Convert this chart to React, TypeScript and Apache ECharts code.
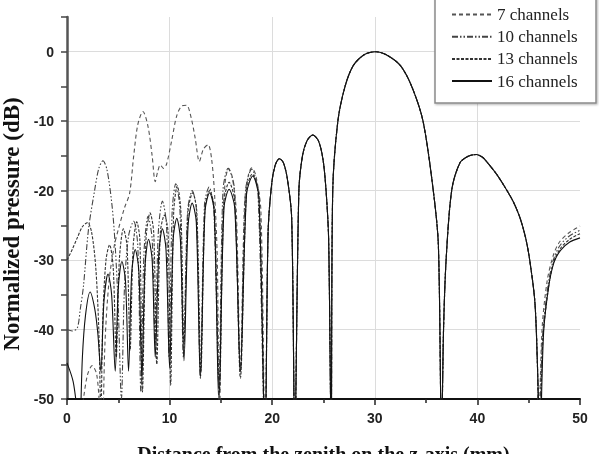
import React, { useEffect, useRef } from 'react';
import * as echarts from 'echarts';

type Pt = [number, number];

const seriesNames = ['7 channels', '10 channels', '13 channels', '16 channels'];
const xTicks = [0, 10, 20, 30, 40, 50];
const yTicks = [-50, -40, -30, -20, -10, 0];

// near-field part, read per series (x in mm, pressure in dB)
const head7: Pt[] = [
  [0, -58], [1.0, -56], [1.6, -50], [2.0, -46.5], [2.45, -45.2], [2.9, -46.5], [3.2, -52], [3.4, -58],
  [3.7, -42], [4.1, -33], [4.6, -28], [5.0, -25.6], [5.6, -22.5], [6.1, -20.4], [6.5, -15], [6.9, -10.5],
  [7.4, -8.6], [7.9, -10.8], [8.3, -15], [8.6, -18.7], [8.85, -17.2], [9.1, -16.3], [9.4, -16.8], [9.7, -16.2],
  [10.2, -12.8], [10.7, -9.2], [11.2, -7.8], [11.65, -7.7], [12.1, -9.5], [12.5, -12.5], [12.9, -15.8],
  [13.3, -14], [13.75, -13.4], [14.1, -15.5], [14.4, -21], [14.65, -30], [14.85, -55], [15.1, -28],
  [15.4, -19], [15.75, -16.8], [16.1, -18], [16.5, -23], [16.9, -46], [17.3, -22], [17.7, -17.6],
  [18.0, -16.7], [18.4, -17.8], [18.9, -23], [19.3, -56],
];
const head10: Pt[] = [
  [0, -40], [0.5, -40.2], [1.0, -39.8], [1.3, -37], [1.6, -33.8], [2.1, -25.5], [2.7, -19.9], [3.1, -16.8],
  [3.5, -15.7], [3.9, -17], [4.4, -22.3], [4.7, -28], [5.0, -37], [5.3, -50], [5.6, -34], [6.0, -26.5],
  [6.5, -24.4], [6.9, -28], [7.2, -49], [7.5, -29], [7.9, -23.7], [8.3, -27], [8.6, -42], [8.9, -26],
  [9.3, -21.5], [9.7, -25], [9.95, -44], [10.25, -23], [10.6, -19], [11.0, -22.5], [11.35, -44], [11.75, -23],
  [12.2, -20], [12.6, -22.5], [13.0, -47], [13.4, -22], [13.85, -19.5], [14.3, -22.5], [14.8, -48],
  [15.2, -20], [15.7, -16.8], [16.3, -19.5], [16.9, -46], [17.4, -20], [18.0, -16.9], [18.6, -20], [19.3, -56],
];
const head13: Pt[] = [
  [0, -30], [0.5, -28.5], [1.0, -26.8], [1.5, -25.2], [2.0, -24.6], [2.4, -26], [2.8, -31], [3.1, -40],
  [3.3, -52], [3.5, -38], [3.8, -30], [4.15, -27.8], [4.5, -31], [4.8, -44], [5.1, -30], [5.5, -25.5],
  [5.85, -28], [6.15, -43], [6.45, -28], [6.8, -24.5], [7.1, -27], [7.35, -49], [7.7, -27], [8.1, -23.2],
  [8.45, -26], [8.75, -45], [9.1, -26], [9.5, -23.5], [9.85, -26], [10.1, -48], [10.4, -23], [10.75, -19.3],
  [11.1, -23], [11.4, -42], [11.8, -23], [12.25, -20.3], [12.65, -23], [13.05, -46], [13.45, -22.5],
  [13.9, -20], [14.35, -22.5], [14.85, -49], [15.3, -21.5], [15.8, -18.8], [16.35, -21.5], [16.9, -47],
  [17.5, -20], [18.05, -17.6], [18.7, -20.5], [19.3, -56],
];
const head16: Pt[] = [
  [0, -44.8], [0.6, -47.5], [1.0, -52], [1.2, -56], [1.5, -44], [1.8, -38], [2.25, -34.6], [2.7, -37],
  [3.0, -40.5], [3.3, -46], [3.6, -36], [4.0, -32], [4.35, -35], [4.7, -46], [5.0, -34], [5.35, -30.2],
  [5.7, -33], [6.0, -46], [6.3, -32], [6.65, -28.5], [7.0, -31.5], [7.3, -47], [7.6, -31], [7.95, -27],
  [8.3, -30], [8.6, -44], [8.95, -29], [9.3, -25.5], [9.65, -28.5], [10.0, -45.5], [10.35, -27], [10.7, -24],
  [11.05, -27], [11.4, -44.5], [11.8, -25], [12.2, -21.8], [12.6, -24.5], [13.0, -47], [13.45, -23],
  [13.9, -20.3], [14.35, -23], [14.8, -50.5], [15.3, -22.5], [15.8, -19.8], [16.35, -22.5], [16.9, -46],
  [17.5, -20.5], [18.1, -17.9], [18.7, -21], [19.3, -56],
];
// far part shared by all four configurations
const sharedTail: Pt[] = [
  [19.6, -26], [19.95, -19], [20.3, -16.3], [20.7, -15.4], [21.1, -16], [21.5, -18.5], [21.9, -24], [22.2, -56],
  [22.6, -20], [22.95, -15], [23.4, -12.8], [23.95, -12], [24.5, -12.8], [24.95, -15.5], [25.25, -20],
  [25.5, -27], [25.75, -56], [25.9, -20], [26.4, -10], [27.1, -5], [27.9, -2], [29.0, -0.4], [30.1, 0],
  [31.2, -0.5], [32.5, -2], [33.6, -5], [34.7, -10], [35.7, -20], [36.2, -28], [36.5, -56], [36.7, -40],
  [36.95, -30], [37.5, -19.9], [38.3, -16], [39.1, -15.05], [39.9, -14.8], [40.5, -15.2], [41.0, -16],
  [41.9, -17.7], [42.85, -19.9], [43.5, -21.6], [44.15, -23.9], [44.7, -26.8], [45.1, -30], [45.6, -36],
  [45.85, -45],
];
const end7: Pt[] = [[45.95, -56], [46.3, -40], [46.8, -33], [47.4, -29.3], [48.0, -27.4], [48.9, -26.1], [50, -25.1]];
const end10: Pt[] = [[46.0, -56], [46.35, -41], [46.9, -33.5], [47.4, -30], [48.0, -28], [48.9, -26.6], [50, -25.7]];
const end13: Pt[] = [[46.05, -56], [46.4, -41], [46.95, -33.8], [47.45, -30.2], [48.1, -28.3], [49.0, -27], [50, -26.2]];
const end16: Pt[] = [[46.1, -56], [46.45, -40.5], [46.95, -33.8], [47.45, -30.4], [48.1, -28.6], [49.0, -27.4], [50, -26.8]];

const serif = "'Liberation Serif', 'Times New Roman', serif";
const sans = "'Liberation Sans', Arial, sans-serif";

export default function App() {
  const ref = useRef<HTMLDivElement>(null);
  useEffect(() => {
    const chart = echarts.init(ref.current!, null, { renderer: 'svg' });
    const heads = [head7, head10, head13, head16];
    const ends = [end7, end10, end13, end16];
    const styles: any[] = [
      { color: '#555', width: 1.1, type: [4, 3] },
      { color: '#444', width: 1.1, type: [6, 2, 1.5, 2, 1.5, 2] },
      { color: '#333', width: 1.1, type: [3, 1.5] },
      { color: '#111', width: 1.1, type: 'solid' },
    ];
    const gridC = '#dcdcdc';
    chart.setOption({
      animation: false,
      grid: { left: 67, right: 19, top: 17, bottom: 55, containLabel: false, outerBoundsMode: 'none' },
      graphic: [
        {
          type: 'rect', z: 50, shape: { x: 435, y: -2, width: 161, height: 105 },
          style: { fill: '#fff', stroke: '#8a8a8a', lineWidth: 1.5, shadowBlur: 2, shadowOffsetX: 1, shadowOffsetY: 1, shadowColor: 'rgba(0,0,0,0.3)' },
        },
      ],
      legend: {
        z: 60, orient: 'vertical', left: 451, top: 6, padding: 0, itemGap: 5.2,
        itemWidth: 40, itemHeight: 12,
        data: seriesNames,
        itemStyle: { opacity: 0 },
        textStyle: { fontFamily: serif, fontSize: 17, color: '#222', lineHeight: 17 },
      },
      xAxis: {
        type: 'value', min: 0, max: 50, interval: 10,
        name: 'Distance from the zenith on the z-axis (mm)', nameLocation: 'middle', nameGap: 45,
        nameTextStyle: { fontFamily: serif, fontWeight: 'bold', fontSize: 20, color: '#111' },
        axisLine: { onZero: false, lineStyle: { color: '#111', width: 2 } },
        axisTick: { show: true, length: 6, lineStyle: { color: '#222', width: 1.5 } },
        minorTick: { show: true, splitNumber: 2, length: 4, lineStyle: { color: '#222', width: 1.5 } },
        axisLabel: {
          margin: 12, fontFamily: sans, fontWeight: 'bold', fontSize: 14, color: '#222',
          formatter: (v: number) => (xTicks.includes(v) ? String(v) : ''),
        },
        splitLine: { show: true, lineStyle: { color: [gridC, gridC, gridC, gridC, gridC, 'transparent'], width: 1 } },
      },
      yAxis: {
        type: 'value', min: -50, max: 5, interval: 5,
        name: 'Normalized pressure (dB)', nameLocation: 'middle', nameGap: 44,
        nameTextStyle: { fontFamily: serif, fontWeight: 'bold', fontSize: 23, color: '#111', padding: [0, 32, 0, 0] },
        axisLine: { show: true, onZero: false, lineStyle: { color: '#555', width: 2.5 } },
        axisTick: { show: true, length: 6, lineStyle: { color: '#444', width: 1.5 } },
        axisLabel: {
          margin: 13, fontFamily: sans, fontWeight: 'bold', fontSize: 14, color: '#222',
          formatter: (v: number) => (yTicks.includes(v) ? String(v) : ''),
        },
        splitLine: { show: true, lineStyle: { color: [gridC, 'transparent'], width: 1 } },
      },
      series: seriesNames.map((name, i) => ({
        name, type: 'line', symbol: 'none', showSymbol: false, smooth: 0.3, clip: true,
        lineStyle: styles[i], itemStyle: { color: styles[i].color },
        data: [...heads[i], ...sharedTail, ...ends[i]],
        z: 10 + i,
      })),
    });
    return () => chart.dispose();
  }, []);
  return <div ref={ref} style={{ position: 'fixed', left: 0, top: 0, width: 599, height: 454 }} />;
}
